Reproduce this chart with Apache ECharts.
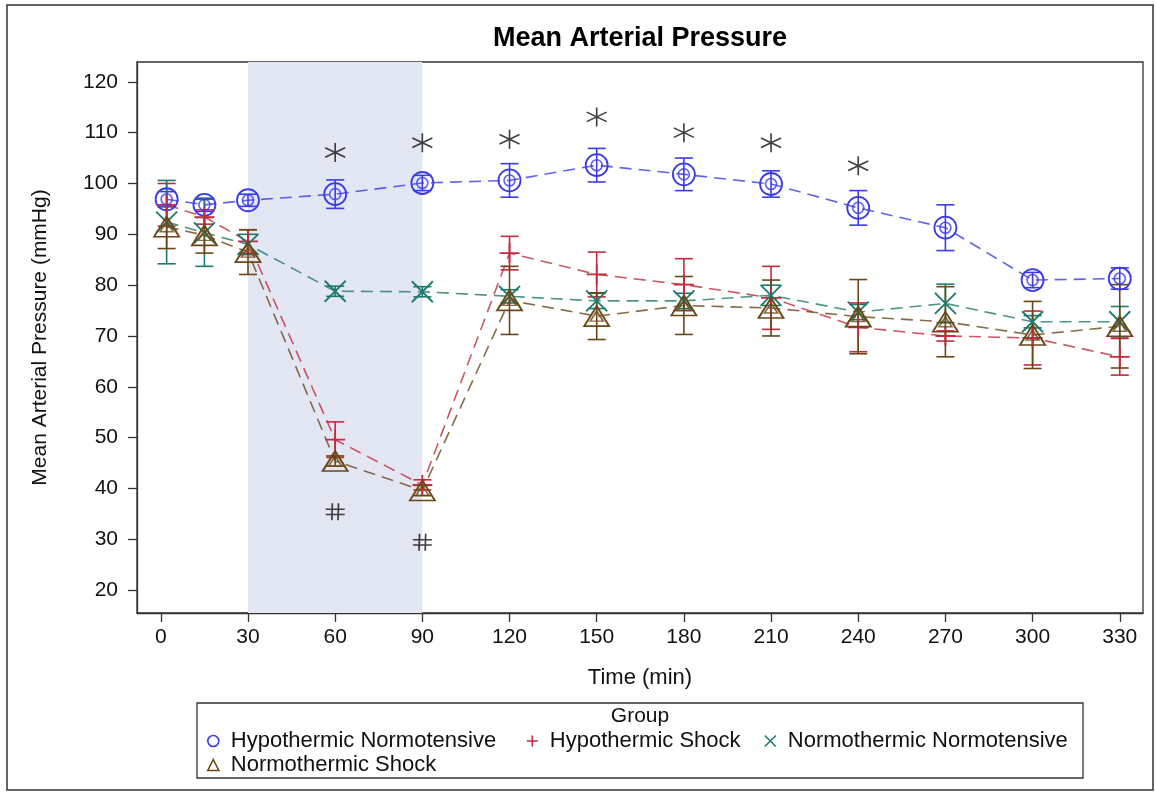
<!DOCTYPE html>
<html>
<head lang="en">
    <meta charset="UTF-8">
    <title>Mean Arterial Pressure</title>
    <style>
        html, body {margin:0; padding:0; background:#fff;}
        #main {width:1156px; height:793px;}
    </style>
</head>
<body>
<div id="main"></div>

<script src="https://cdn.jsdelivr.net/npm/echarts@6/dist/echarts.min.js"></script>
<script>
    // time points (min)
    var times = [2, 15, 30, 60, 90, 120, 150, 180, 210, 240, 270, 300, 330];

    // Hypothermic Normotensive
    var hnMean = [96.9, 95.8, 96.7, 97.9, 100.1, 100.6, 103.6, 101.8, 99.9, 95.2, 91.3, 81.0, 81.3];
    var hnErr  = [1.5, 1.3, 1.2, 2.8, 1.5, 3.3, 3.3, 3.2, 2.6, 3.4, 4.5, 1.5, 2.1];
    // Hypothermic Shock
    var hsMean = [95.8, 93.4, 88.6, 49.6, 40.7, 86.3, 82.1, 80.1, 77.5, 71.7, 70.0, 69.6, 65.9];
    var hsErr  = [4.2, 1.4, 2.3, 3.5, 1.0, 3.3, 4.4, 5.1, 6.2, 4.8, 1.0, 5.3, 3.6];
    // Normothermic Normotensive
    var nnMean = [92.4, 90.3, 88.0, 78.8, 78.7, 77.8, 76.9, 76.9, 78.0, 74.7, 76.4, 72.8, 72.8];
    var nnErr  = [8.2, 6.6, 2.0, 1.0, 1.0, 1.3, 1.5, 1.5, 2.0, 1.5, 3.8, 1.2, 3.0];
    // Normothermic Shock
    var nsMean = [91.5, 89.8, 86.5, 45.4, 39.6, 77.0, 73.9, 76.0, 75.5, 73.8, 72.8, 70.2, 71.9];
    var nsErr  = [4.3, 3.5, 4.4, 1.0, 1.0, 6.7, 4.6, 5.7, 5.5, 7.3, 6.9, 6.6, 8.2];

    // significance marks
    var starTimes  = [60, 90, 120, 150, 180, 210, 240];
    var starValues = [106.1, 108.0, 108.7, 113.1, 110.0, 108.0, 103.5];
    var hashTimes  = [60, 90];
    var hashValues = [35.4, 29.4];

    var xTicks = [0, 30, 60, 90, 120, 150, 180, 210, 240, 270, 300, 330];
    var yTicks = [20, 30, 40, 50, 60, 70, 80, 90, 100, 110, 120];

    var groups = ['Hypothermic Normotensive', 'Hypothermic Shock', 'Normothermic Normotensive', 'Normothermic Shock'];
    var colors = ['#3b3be8', '#c42a40', '#1d7a6c', '#6b4716'];

    var plusPath  = 'path://M10,0L10,20M0,10L20,10';
    var crossPath = 'path://M0,0L20,20M20,0L0,20';
    var starPath  = 'path://M10,0L10,20M1.5,5L18.5,15M1.5,15L18.5,5';
    var hashPath  = 'path://M7,0L6.5,20M13.5,0L13,20M0,7L20,7M0,13L20,13';

    var font = 'Liberation Sans, Arial, sans-serif';
    var myChart = echarts.init(document.getElementById('main'));

    function pairs(xs, ys) {
        return xs.map(function (x, i) { return [x, ys[i]]; });
    }

    function lineSeries(idx, mean, symbol, size) {
        return {
            name: groups[idx],
            type: 'line',
            data: pairs(times, mean),
            symbol: symbol,
            symbolSize: size,
            showAllSymbol: true,
            z: 4,
            lineStyle: {color: colors[idx], width: 1.6, type: [12, 7], opacity: 0.8},
            itemStyle: {color: 'rgba(0,0,0,0)', borderColor: colors[idx], borderWidth: 1.8},
            emphasis: {disabled: true},
            animation: false
        };
    }

    function innerSeries(idx, mean, symbol, size) {
        return {
            name: groups[idx] + ' inner',
            type: 'scatter',
            data: pairs(times, mean),
            symbol: symbol,
            symbolSize: size,
            z: 5,
            itemStyle: {color: 'rgba(0,0,0,0)', borderColor: colors[idx], borderWidth: 1.6},
            silent: true,
            animation: false
        };
    }

    function errorSeries(idx, mean, err) {
        return {
            name: groups[idx],
            type: 'custom',
            z: 3,
            silent: true,
            animation: false,
            data: times.map(function (t, i) { return [t, mean[i] - err[i], mean[i] + err[i]]; }),
            encode: {x: 0, y: [1, 2]},
            renderItem: function (params, api) {
                var lo = api.coord([api.value(0), api.value(1)]);
                var hi = api.coord([api.value(0), api.value(2)]);
                var w = 9;
                var st = {stroke: colors[idx], lineWidth: 1.6};
                return {
                    type: 'group',
                    children: [
                        {type: 'line', shape: {x1: lo[0], y1: lo[1], x2: hi[0], y2: hi[1]}, style: st},
                        {type: 'line', shape: {x1: lo[0] - w, y1: lo[1], x2: lo[0] + w, y2: lo[1]}, style: st},
                        {type: 'line', shape: {x1: hi[0] - w, y1: hi[1], x2: hi[0] + w, y2: hi[1]}, style: st}
                    ]
                };
            }
        };
    }

    function legendAt(idx, icon, left, top) {
        return {
            left: left, top: top,
            itemWidth: 11, itemHeight: 11, itemGap: 0,
            selectedMode: false,
            textStyle: {fontFamily: font, fontSize: 22, color: '#111', padding: [0, 0, 0, 7]},
            data: [{
                name: groups[idx], icon: icon,
                itemStyle: {color: 'rgba(0,0,0,0)', borderColor: colors[idx], borderWidth: 1.6}
            }]
        };
    }

    var option = {
        backgroundColor: '#fff',
        animation: false,
        title: {
            text: 'Mean Arterial Pressure',
            left: 635, top: 20, textAlign: 'center',
            textStyle: {fontFamily: font, fontSize: 27, fontWeight: 'bold', color: '#000'}
        },
        grid: {left: 137, right: 13, top: 62, bottom: 180, show: true, borderColor: '#333', borderWidth: 1.3},
        xAxis: {
            type: 'value', min: -8.2, max: 338,
            name: 'Time (min)', nameLocation: 'middle', nameGap: 54,
            nameTextStyle: {fontFamily: font, fontSize: 22, color: '#111'},
            axisLine: {show: true, onZero: false, lineStyle: {color: '#333', width: 1.3}},
            axisTick: {show: true, length: 9, lineStyle: {color: '#333', width: 1.3}, customValues: xTicks},
            axisLabel: {fontFamily: font, fontSize: 21, color: '#111', margin: 14, customValues: xTicks},
            splitLine: {show: false}
        },
        yAxis: {
            type: 'value', min: 15.5, max: 123.9,
            name: 'Mean Arterial Pressure (mmHg)', nameLocation: 'middle', nameGap: 86,
            nameTextStyle: {fontFamily: font, fontSize: 21, color: '#111'},
            axisLine: {show: true, onZero: false, lineStyle: {color: '#333', width: 1.3}},
            axisTick: {show: true, length: 9, lineStyle: {color: '#333', width: 1.3}, customValues: yTicks},
            axisLabel: {fontFamily: font, fontSize: 21, color: '#111', margin: 19, customValues: yTicks},
            splitLine: {show: false}
        },
        legend: [
            legendAt(0, 'circle', 202, 725),
            legendAt(1, plusPath, 521, 725),
            legendAt(2, crossPath, 759, 725),
            legendAt(3, 'triangle', 202, 749)
        ],
        graphic: [
            {type: 'rect', shape: {x: 7, y: 5, width: 1146, height: 785}, style: {fill: 'none', stroke: '#333', lineWidth: 1.5}, z: -1},
            {type: 'rect', shape: {x: 197, y: 703, width: 886, height: 75}, style: {fill: 'none', stroke: '#333', lineWidth: 1.3}},
            {type: 'text', x: 640, y: 716, style: {text: 'Group', fontFamily: font, fontSize: 21, fill: '#111', textAlign: 'center', textVerticalAlign: 'middle'}}
        ],
        series: [
            {
                name: 'shade', type: 'line', data: [], z: 0, silent: true,
                markArea: {silent: true, itemStyle: {color: '#e3e7f3'}, data: [[{xAxis: 30}, {xAxis: 90}]]}
            },
            errorSeries(0, hnMean, hnErr),
            errorSeries(1, hsMean, hsErr),
            errorSeries(2, nnMean, nnErr),
            errorSeries(3, nsMean, nsErr),
            lineSeries(0, hnMean, 'circle', 22),
            lineSeries(1, hsMean, plusPath, 20),
            lineSeries(2, nnMean, crossPath, 21),
            lineSeries(3, nsMean, 'triangle', [25, 20]),
            innerSeries(0, hnMean, 'circle', 11),
            innerSeries(3, nsMean, 'triangle', [13, 10]),
            {
                name: 'star', type: 'scatter', data: pairs(starTimes, starValues),
                symbol: starPath, symbolSize: [20, 19], z: 6, silent: true,
                itemStyle: {color: 'rgba(0,0,0,0)', borderColor: '#111', borderWidth: 1.6}
            },
            {
                name: 'hash', type: 'scatter', data: pairs(hashTimes, hashValues),
                symbol: hashPath, symbolSize: [19, 17], z: 6, silent: true,
                itemStyle: {color: 'rgba(0,0,0,0)', borderColor: '#111', borderWidth: 1.6}
            }
        ]
    };
    myChart.setOption(option);
</script>
</body>
</html>
